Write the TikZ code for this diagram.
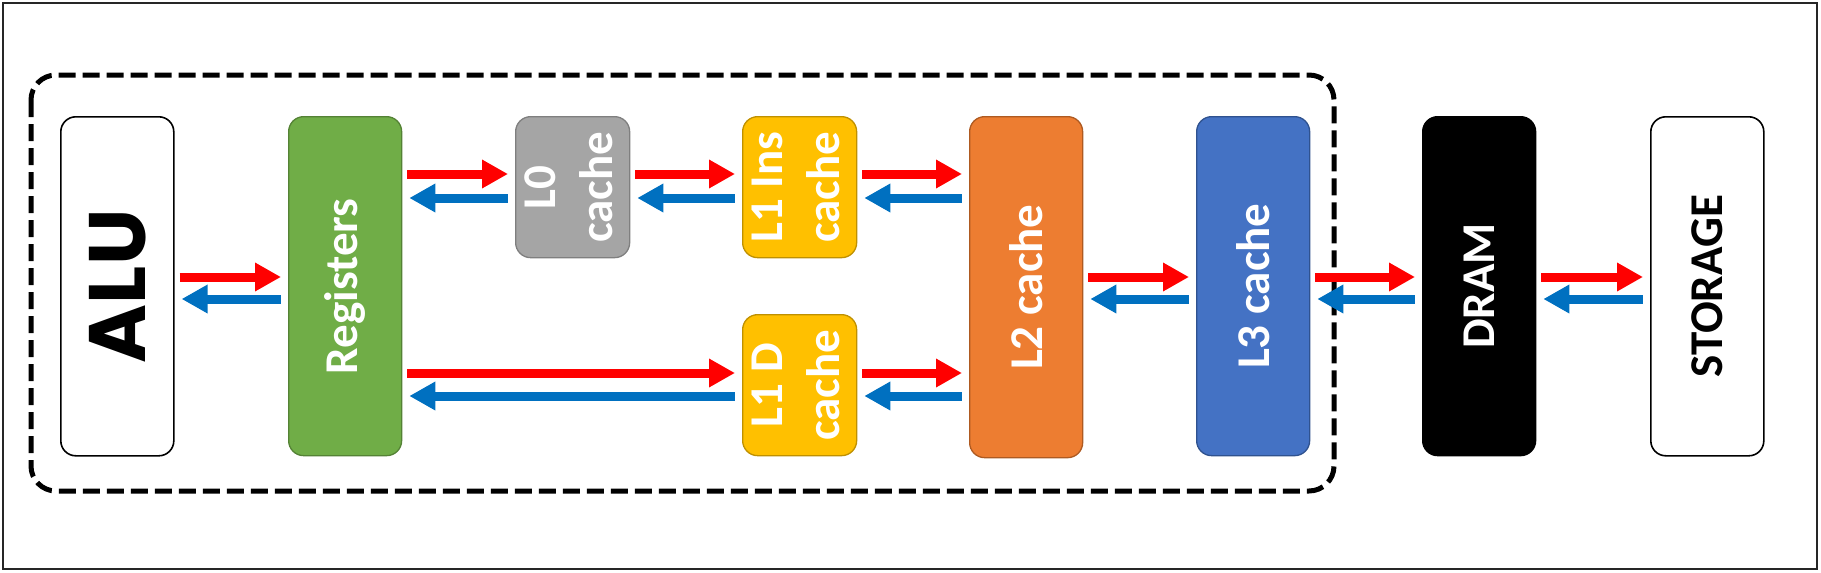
\documentclass[tikz,border=0pt]{standalone}
\usepackage{fontspec}
\setmainfont{Carlito}
\newfontfamily\alufont{Poppins}
\usetikzlibrary{arrows.meta}
\definecolor{regfill}{HTML}{70AD47}
\definecolor{regdraw}{HTML}{548235}
\definecolor{lzfill}{HTML}{A5A5A5}
\definecolor{lzdraw}{HTML}{7F7F7F}
\definecolor{lofill}{HTML}{FFC000}
\definecolor{lodraw}{HTML}{BF9000}
\definecolor{ltfill}{HTML}{ED7D31}
\definecolor{ltdraw}{HTML}{AE5A21}
\definecolor{lthfill}{HTML}{4472C4}
\definecolor{lthdraw}{HTML}{2F528F}
\definecolor{arrred}{HTML}{FF0000}
\definecolor{arrblue}{HTML}{0070C0}
\begin{document}
\begin{tikzpicture}[x=1pt,y=-1pt,
  box/.style={rectangle, rounded corners=15pt, minimum width=113pt, inner sep=0pt,
    anchor=north west, line width=1.3pt, font=\bfseries\fontsize{47}{57}\selectfont},
  tallbox/.style={box, minimum height=339pt},
  shortbox/.style={box, minimum height=141pt},
  rarr/.style={draw=arrred, line width=9pt, -{Triangle[length=26pt,width=27pt]},
    shorten <=5pt, shorten >=7pt},
  barr/.style={draw=arrblue, line width=9pt, {Triangle[length=26pt,width=27pt]}-,
    shorten <=7pt, shorten >=7pt}]
\useasboundingbox (0,0) rectangle (1821,573);
\draw[line width=1.5pt, black!85] (3,3) rectangle (1817,569);
\draw[line width=5pt, dash pattern=on 17pt off 7pt, rounded corners=25pt] (31,75) rectangle (1334,491);
% boxes
\node[tallbox, draw=black, fill=white, line width=1.6pt] (alu) at (60,116)
  {\rotatebox{90}{\alufont\bfseries\fontsize{80}{80}\selectfont ALU}};
\node[tallbox, draw=regdraw, fill=regfill, text=white] (reg) at (288,116)
  {\rotatebox{90}{Registers}};
\node[shortbox, draw=lzdraw, fill=lzfill, text=white] (lz) at (515,116)
  {\rotatebox{90}{\begin{tabular}{@{}c@{}}L0\\cache\end{tabular}}};
\node[shortbox, draw=lodraw, fill=lofill, text=white] (li) at (742,116)
  {\rotatebox{90}{\begin{tabular}{@{}c@{}}L1 Ins\\cache\end{tabular}}};
\node[shortbox, draw=lodraw, fill=lofill, text=white] (ld) at (742,314)
  {\rotatebox{90}{\begin{tabular}{@{}c@{}}L1 D\\cache\end{tabular}}};
\node[tallbox, draw=ltdraw, fill=ltfill, text=white, minimum height=341pt] (lt) at (969,116)
  {\rotatebox{90}{L2 cache}};
\node[tallbox, draw=lthdraw, fill=lthfill, text=white] (lth) at (1196,116)
  {\rotatebox{90}{L3 cache}};
\node[tallbox, draw=black, fill=black, text=white] (dram) at (1422,116)
  {\rotatebox{90}{DRAM}};
\node[tallbox, draw=black, fill=white, line width=1.6pt] (sto) at (1650,116)
  {\rotatebox{90}{STORAGE}};
% upper row
\draw[rarr] (reg.east |- 0,174) -- (lz.west |- 0,174);
\draw[barr] (reg.east |- 0,198) -- (lz.west |- 0,198);
\draw[rarr] (lz.east |- 0,174) -- (li.west |- 0,174);
\draw[barr] (lz.east |- 0,198) -- (li.west |- 0,198);
\draw[rarr] (li.east |- 0,174) -- (lt.west |- 0,174);
\draw[barr] (li.east |- 0,198) -- (lt.west |- 0,198);
% lower row
\draw[rarr] (reg.east |- 0,373) -- (ld.west |- 0,373);
\draw[barr] (reg.east |- 0,396) -- (ld.west |- 0,396);
\draw[rarr] (ld.east |- 0,373) -- (lt.west |- 0,373);
\draw[barr] (ld.east |- 0,396) -- (lt.west |- 0,396);
% middle row
\draw[rarr] (alu.east |- 0,277) -- (reg.west |- 0,277);
\draw[barr] (alu.east |- 0,299) -- (reg.west |- 0,299);
\draw[rarr] (lt.east |- 0,277) -- (lth.west |- 0,277);
\draw[barr] (lt.east |- 0,299) -- (lth.west |- 0,299);
\draw[rarr] (lth.east |- 0,277) -- (dram.west |- 0,277);
\draw[barr] (lth.east |- 0,299) -- (dram.west |- 0,299);
\draw[rarr] (dram.east |- 0,277) -- (sto.west |- 0,277);
\draw[barr] (dram.east |- 0,299) -- (sto.west |- 0,299);
\end{tikzpicture}
\end{document}
